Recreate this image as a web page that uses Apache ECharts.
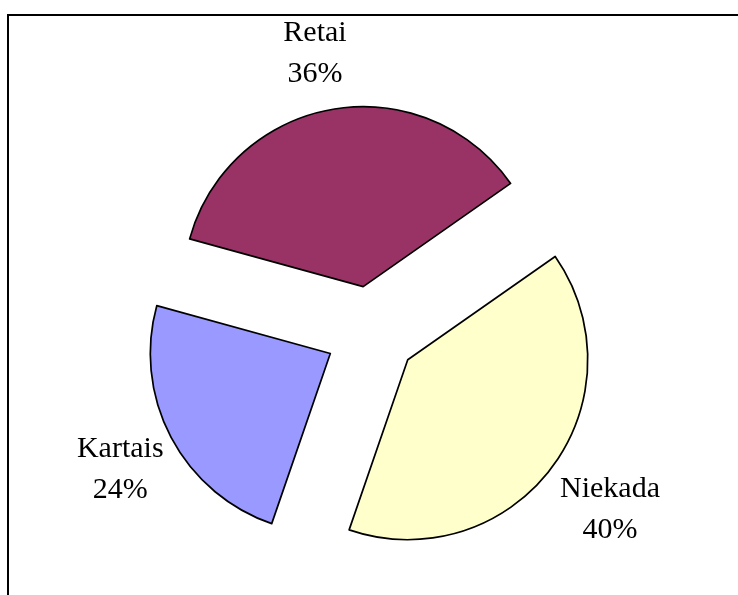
<!DOCTYPE html>
<html>
<head>
<meta charset="utf-8">
<script src="https://cdn.jsdelivr.net/npm/echarts@6/dist/echarts.min.js"></script>
<style>
html,body{margin:0;padding:0;background:#fff;}
#chart{width:738px;height:595px;}
</style>
</head>
<body>
<div id="chart"></div>
<script>
const categories = ['Niekada', 'Kartais', 'Retai'];
const values = [40, 24, 36];
const colors = ['#FFFFCC', '#9999FF', '#993366'];
const labelShift = [[4, 4], [9, 3], [-2, 5]];

const chart = echarts.init(document.getElementById('chart'), null, {renderer: 'canvas'});
const data = categories.map((c, i) => ({
  name: c,
  value: values[i],
  selected: true,
  itemStyle: {color: colors[i]}
}));

chart.setOption({
  animation: false,
  backgroundColor: '#ffffff',
  graphic: [{
    type: 'rect',
    shape: {x: 8, y: 15, width: 900, height: 900},
    style: {fill: 'none', stroke: '#000', lineWidth: 2},
    silent: true
  }],
  series: [{
    type: 'pie',
    center: [371, 332],
    radius: [0, 180],
    startAngle: 35,
    clockwise: true,
    selectedMode: 'multiple',
    selectedOffset: 46,
    avoidLabelOverlap: false,
    data: data,
    itemStyle: {borderColor: '#000', borderWidth: 1.7},
    select: {itemStyle: {borderColor: '#000', borderWidth: 1.7}},
    emphasis: {disabled: true},
    label: {
      show: true,
      position: 'outside',
      formatter: '{b}\n{d}%',
      fontFamily: '"Liberation Serif", "Times New Roman", serif',
      fontSize: 30,
      lineHeight: 41,
      color: '#000',
      align: 'center'
    },
    labelLine: {show: false, length: 62, length2: 0},
    labelLayout: function (p) {
      const s = labelShift[p.dataIndex];
      return {align: 'center', verticalAlign: 'middle', dx: s[0], dy: s[1]};
    }
  }]
});
</script>
</body>
</html>
